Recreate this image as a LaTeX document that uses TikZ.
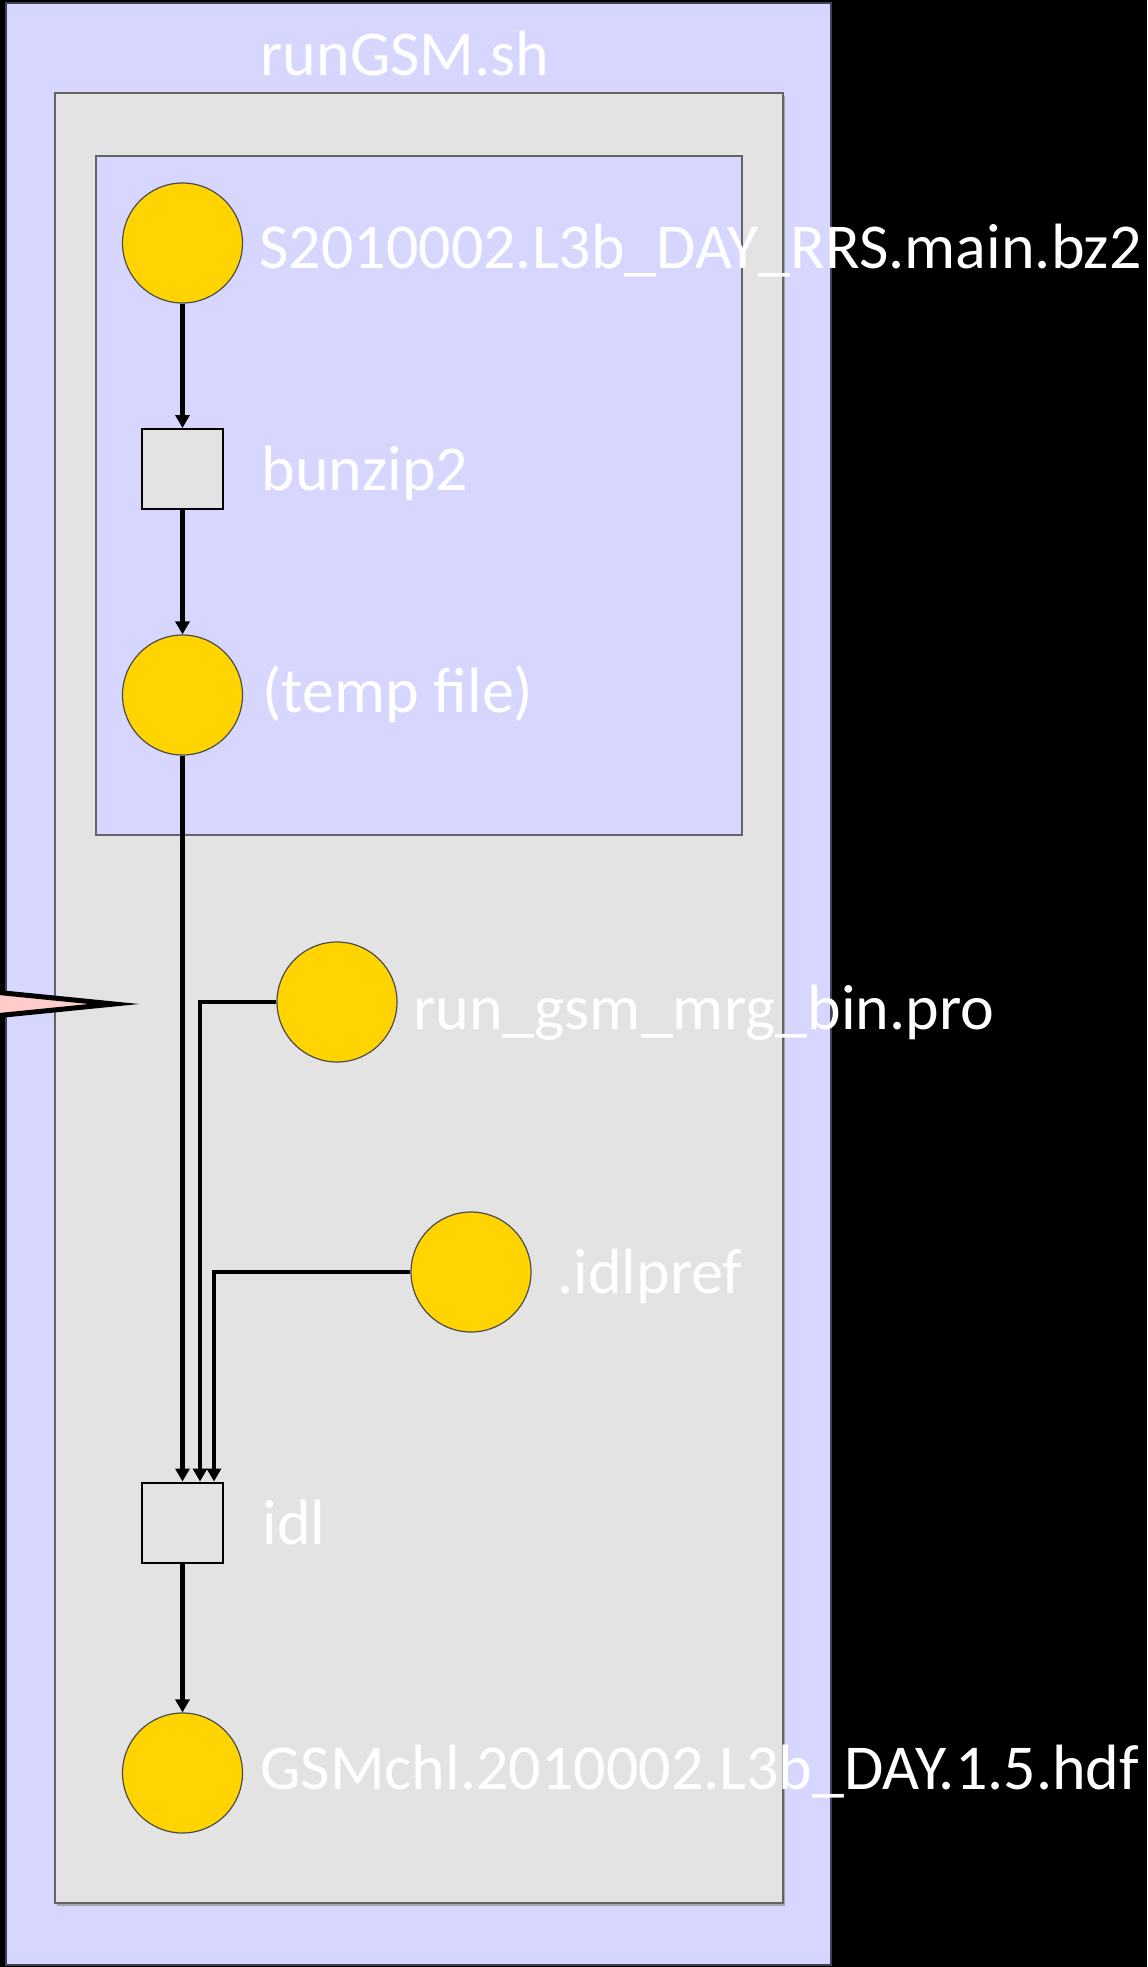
\documentclass[tikz,border=0pt]{standalone}
\usepackage{fontspec}
\setmainfont{Carlito}
\usetikzlibrary{arrows.meta}
\definecolor{lav}{RGB}{214,214,255}
\definecolor{grayfill}{RGB}{227,227,227}
\definecolor{gold}{RGB}{255,212,0}
\definecolor{pinkfill}{RGB}{255,204,204}
\definecolor{outerborder}{RGB}{64,64,90}
\definecolor{grayborder}{RGB}{100,100,100}
\begin{document}
\begin{tikzpicture}[x=0.5pt,y=-0.5pt,
  filecirc/.style={circle,draw=black!70,line width=0.6pt,fill=gold,minimum size=60pt,inner sep=0pt},
  procbox/.style={rectangle,draw=black,line width=1pt,fill=grayfill,minimum width=40.5pt,minimum height=40pt,inner sep=0pt},
  lbl/.style={text=white,inner sep=0pt,font=\fontsize{32}{36}\selectfont},
  flow/.style={draw=black,line width=2.3pt,-{Triangle[length=6.5pt,width=7pt]}}]
\useasboundingbox (0,0) rectangle (1147,1967);
\clip (0,0) rectangle (1147,1967);
\fill[black] (0,0) rectangle (1147,1967);
% containers
\draw[fill=lav,draw=outerborder,line width=1pt] (6,3) rectangle (831,1965);
\draw[fill=black!35,draw=none] (57,96) rectangle (785,1906);
\draw[fill=grayfill,draw=grayborder,line width=0.8pt] (55,93) rectangle (783,1903);
\draw[fill=lav,draw=grayborder,line width=0.8pt] (96,156) rectangle (742,835);
\node[lbl,anchor=base] (title) at (405,75) {runGSM.sh};
% nodes
\node[filecirc] (f1) at (182.5,243) {};
\node[procbox] (bz) at (182.5,469) {};
\node[filecirc] (f2) at (182.5,695) {};
\node[filecirc] (rg) at (337,1002) {};
\node[filecirc] (ip) at (471,1272) {};
\node[procbox] (idl) at (182.5,1522.5) {};
\node[filecirc] (f5) at (182.5,1773) {};
% labels
\node[lbl,anchor=base west] (t1) at (259,268) {S2010002.L3b\_DAY\_RRS.main.bz2};
\node[lbl,anchor=base west] (t2) at (261,490) {bunzip2};
\node[lbl,anchor=base west] (t3) at (262,712) {(temp file)};
\node[lbl,anchor=base west] (t4) at (413,1029) {run\_gsm\_mrg\_bin.pro};
\node[lbl,anchor=base west] (t5) at (557,1293) {.idlpref};
\node[lbl,anchor=base west] (t6) at (262,1544) {idl};
\node[lbl,anchor=base west] (t7) at (260,1789) {GSMchl.2010002.L3b\_DAY.1.5.hdf};
% connectors
\draw[flow] (f1) -- (bz);
\draw[flow] (bz) -- (f2);
\draw[flow] (f2) -- (idl);
\draw[flow] (rg) -| ([xshift=8.75pt]idl.north);
\draw[flow] (ip) -| ([xshift=15.75pt]idl.north);
\draw[flow] (idl) -- (f5);
% callout pointer
\draw[fill=pinkfill,draw=black,line width=2.5pt,miter limit=25] (-60,986.6) -- (114,1004) -- (-60,1021.4);
\end{tikzpicture}
\end{document}
